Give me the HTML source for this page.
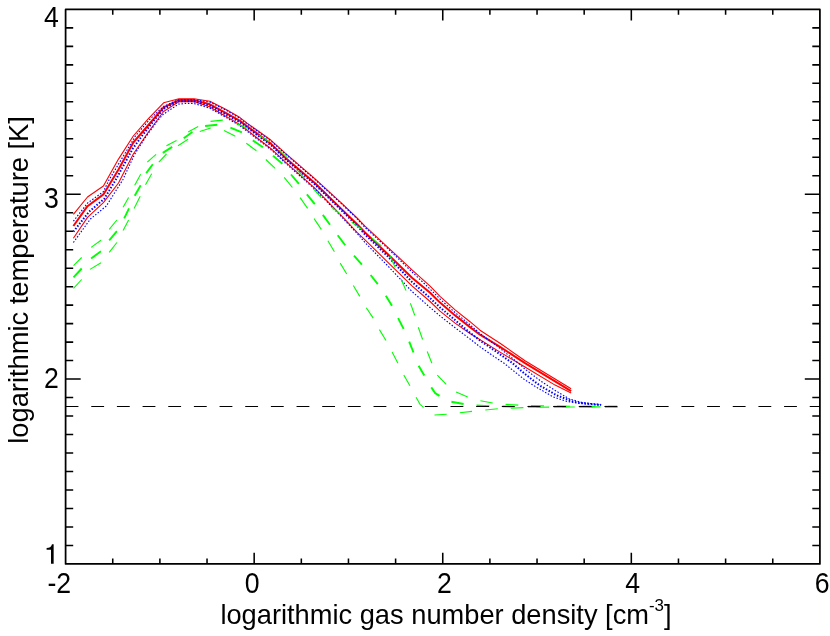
<!DOCTYPE html>
<html><head><meta charset="utf-8"><title>plot</title>
<style>
html,body{margin:0;padding:0;background:#fff;}
svg{display:block;}
text{font-family:"Liberation Sans",sans-serif;font-size:27.2px;fill:#000;}
</style></head><body>
<svg width="830" height="636" viewBox="0 0 830 636">
<rect width="830" height="636" fill="#fff"/>
<g fill="none" stroke-linecap="butt" stroke-linejoin="round">
<path d="M73.4 226.0L87.5 206.2L103.4 194.4L118.5 169.6L133.3 142.5L148.4 125.0L163.6 107.3L179.0 100.1L194.0 100.1L209.9 104.3L226.1 113.1L240.0 120.9L247.1 126.2L271.1 143.9L285.0 157.4L315.1 183.2L342.1 209.6L357.1 224.2L365.0 232.5L387.9 254.3L412.0 277.7L430.1 292.7L440.0 302.6L455.1 315.4L470.0 327.1L480.0 334.7L500.0 346.8L525.0 363.1L555.1 381.4L571.1 391.1" stroke="#f00" stroke-width="2.0"/>
<path d="M73.4 214.3L87.5 197.0L103.4 186.0L118.5 159.1L133.3 136.0L148.4 118.7L163.6 102.8L179.0 98.7L194.0 98.7L209.9 101.3L226.1 109.5L240.0 117.6L247.1 123.1L271.1 140.3L285.0 152.9L315.1 178.9L342.1 203.6L357.1 218.0L365.0 226.2L387.9 247.3L412.0 269.8L430.1 286.1L440.0 296.3L455.1 309.9L470.0 321.7L480.0 330.2L500.0 343.2L525.0 360.7L555.1 379.0L571.1 388.7" stroke="#f00" stroke-width="1.1"/>
<path d="M73.4 238.2L87.5 217.4L103.4 202.6L118.5 183.0L133.3 154.0L148.4 132.0L163.6 111.5L179.0 101.6L194.0 101.6L209.9 107.1L226.1 116.4L240.0 124.8L247.1 130.1L271.1 148.7L285.0 161.6L315.1 188.3L342.1 216.3L357.1 232.3L365.0 239.8L387.9 262.3L412.0 285.8L430.1 301.5L440.0 311.1L455.1 323.1L470.0 333.5L480.0 339.6L500.0 352.1L525.0 367.0L555.1 385.1L571.1 392.9" stroke="#f00" stroke-width="1.1"/>
<path d="M73.4 231.7L89.0 211.8L104.2 198.8L115.6 180.0L132.5 149.0L141.9 136.0L154.0 120.4L161.9 110.7L164.1 108.5L178.6 101.3L194.0 101.3L209.9 105.7L226.1 114.5L240.0 122.3L247.1 127.6L271.1 145.3L285.0 158.8L315.1 184.6L342.1 211.0L357.1 225.6L365.0 234.5L387.9 256.5L412.0 281.9L430.1 298.1L440.0 307.4L455.1 320.1L470.0 332.7L480.0 340.5L495.7 351.3L511.9 362.7L525.0 374.0L539.5 385.3L556.6 395.3L573.7 401.8L586.4 403.6L601.1 404.9" stroke="#00f" stroke-width="2.0" stroke-dasharray="1.5 1.7"/>
<path d="M73.4 221.2L87.5 203.1L103.4 191.6L109.0 180.0L135.4 136.0L150.0 119.1L163.2 106.6L170.3 103.3L178.6 99.7L194.0 99.7L209.9 102.1L226.1 110.3L240.0 118.4L247.1 123.9L271.1 141.1L285.0 153.7L315.1 179.7L342.1 204.4L357.1 218.8L365.0 227.4L387.9 248.6L412.0 271.9L430.1 289.1L440.0 299.0L455.1 312.6L470.0 324.8L480.0 333.5L498.1 346.8L518.6 363.3L525.0 369.1L540.7 381.0L556.0 391.0L569.5 399.0L582.2 402.6L601.1 404.7" stroke="#00f" stroke-width="1.15" stroke-dasharray="1.5 1.7"/>
<path d="M73.4 242.5L90.4 219.0L106.3 206.0L122.7 180.0L134.7 154.1L146.3 136.0L157.9 120.4L162.8 114.7L167.6 111.4L178.6 104.1L185.2 103.5L194.0 103.5L209.9 108.2L226.1 117.5L240.0 125.9L247.1 131.2L271.1 149.8L285.0 162.7L315.1 189.4L342.1 217.4L357.1 233.4L365.0 242.5L387.9 266.0L412.0 291.5L430.1 307.5L440.0 315.9L455.1 327.7L470.0 339.0L480.0 346.8L490.8 354.3L504.1 363.3L525.0 380.0L537.0 387.5L552.7 396.7L565.3 401.0L578.0 403.3L601.1 405.1" stroke="#00f" stroke-width="1.15" stroke-dasharray="1.5 1.7"/>
<path d="M73.5 277.3L81.7 268.5M91.1 258.4L101.0 251.3M109.2 240.3L116.9 231.1M124.2 218.3L129.0 208.4M134.7 195.8L140.7 185.2M146.2 173.1L152.8 164.3M162.8 152.9L172.2 146.9M183.7 138.2L192.4 132.0M205.1 126.0L217.3 124.8M230.4 127.6L241.9 132.4M252.8 140.4L262.9 147.2M273.0 155.8L282.4 163.8M291.0 174.5L298.9 183.9M306.9 194.4L314.8 204.1M322.8 214.9L330.0 224.8M337.7 235.2L345.2 245.3M354.0 255.6L361.9 264.6M370.6 275.0L377.8 284.1M385.8 295.7L392.0 305.8M398.1 318.1L403.6 328.9M409.2 341.6L413.5 352.5M418.6 365.8L424.3 375.6M431.3 387.4L435.2 393.1L439.5 395.9M451.4 401.8L463.6 404.0M476.5 405.5L489.4 406.1M502.4 406.4L514.7 406.6M528.0 406.7L540.8 406.7M553.7 406.7L566.5 406.7M579.3 406.7L592.8 406.7M605.0 406.7L617.5 406.7" stroke="#0f0" stroke-width="1.9"/>
<path d="M73.5 265.6L81.7 257.5M91.1 247.4L101.0 240.3M109.2 229.3L116.9 220.0M123.1 207.3L128.6 197.4M134.7 185.2L140.7 174.2M147.3 162.1L156.1 154.4M166.4 145.7L176.5 140.4M188.1 132.0L198.2 126.6M210.5 121.4L222.8 120.1M236.1 123.5L247.2 128.3M258.7 135.1L269.3 141.8M279.0 150.0L287.7 158.2M296.5 169.3L304.7 178.1M313.4 188.9L321.3 197.6M331.4 207.0L340.1 214.2M351.7 222.2L361.8 229.4M371.9 238.1L381.3 246.0M390.1 255.9L395.2 267.5M401.0 279.0L406.0 290.6M410.4 303.3L414.7 315.2M418.3 327.3L422.6 339.5M427.2 351.5L431.9 363.3M437.3 375.2L446.2 384.3M456.1 391.9L467.7 397.1M480.4 400.8L492.7 403.0M505.6 404.4L518.3 405.1M531.0 405.6L544.0 405.9M557.0 406.1L570.0 406.2M582.5 406.3L595.3 406.4M608.0 406.4L617.0 406.4" stroke="#0f0" stroke-width="1.1"/>
<path d="M73.5 288.3L81.7 279.5M90.0 269.4L101.0 262.8M109.2 252.4L116.9 242.5M123.1 230.4L128.6 220.0M134.1 208.4L140.2 196.3M145.5 184.8L151.7 173.8M158.8 162.2L166.5 154.0M178.0 145.7L188.1 139.2M199.8 131.6L210.7 128.1M224.0 130.5L235.4 136.3M246.3 143.3L256.4 150.8M265.8 159.5L275.2 168.4M284.2 177.3L292.4 187.5M300.1 197.6L307.6 208.4M314.1 218.6L321.3 229.4M327.9 240.7L334.4 251.7M340.2 263.1L346.7 274.0M353.3 285.5L359.8 296.4M366.3 307.7L373.2 318.1M379.4 329.6L386.0 340.5M392.1 352.0L397.9 363.3M403.8 374.9L409.9 385.7M416.1 397.3L420.0 404.3L423.6 407.3M434.5 415.0L446.7 414.2M459.8 412.8L472.0 411.4M485.3 410.0L497.8 408.7M510.8 408.3L523.4 407.6M536.4 407.2L549.0 407.1M562.0 407.0L574.8 407.0M587.7 406.9L600.5 406.9M613.3 406.8L617.5 406.8" stroke="#0f0" stroke-width="1.1"/>
<path d="M65.60 406.5H819.90" stroke="#000" stroke-width="1.1" stroke-dasharray="12.83 12.83"/>
<path d="M112.74 563.90v-5.30M112.74 9.40v5.30M159.89 563.90v-5.30M159.89 9.40v5.30M207.03 563.90v-5.30M207.03 9.40v5.30M254.17 563.90v-11.10M254.17 9.40v11.10M301.32 563.90v-5.30M301.32 9.40v5.30M348.46 563.90v-5.30M348.46 9.40v5.30M395.61 563.90v-5.30M395.61 9.40v5.30M442.75 563.90v-11.10M442.75 9.40v11.10M489.89 563.90v-5.30M489.89 9.40v5.30M537.04 563.90v-5.30M537.04 9.40v5.30M584.18 563.90v-5.30M584.18 9.40v5.30M631.32 563.90v-11.10M631.32 9.40v11.10M678.47 563.90v-5.30M678.47 9.40v5.30M725.61 563.90v-5.30M725.61 9.40v5.30M772.76 563.90v-5.30M772.76 9.40v5.30M65.60 545.42h7.60M819.90 545.42h-7.60M65.60 526.93h7.60M819.90 526.93h-7.60M65.60 508.45h7.60M819.90 508.45h-7.60M65.60 489.97h7.60M819.90 489.97h-7.60M65.60 471.48h7.60M819.90 471.48h-7.60M65.60 453.00h7.60M819.90 453.00h-7.60M65.60 434.52h7.60M819.90 434.52h-7.60M65.60 416.03h7.60M819.90 416.03h-7.60M65.60 397.55h7.60M819.90 397.55h-7.60M65.60 379.07h15.10M819.90 379.07h-15.10M65.60 360.58h7.60M819.90 360.58h-7.60M65.60 342.10h7.60M819.90 342.10h-7.60M65.60 323.62h7.60M819.90 323.62h-7.60M65.60 305.13h7.60M819.90 305.13h-7.60M65.60 286.65h7.60M819.90 286.65h-7.60M65.60 268.17h7.60M819.90 268.17h-7.60M65.60 249.68h7.60M819.90 249.68h-7.60M65.60 231.20h7.60M819.90 231.20h-7.60M65.60 212.72h7.60M819.90 212.72h-7.60M65.60 194.23h15.10M819.90 194.23h-15.10M65.60 175.75h7.60M819.90 175.75h-7.60M65.60 157.27h7.60M819.90 157.27h-7.60M65.60 138.78h7.60M819.90 138.78h-7.60M65.60 120.30h7.60M819.90 120.30h-7.60M65.60 101.82h7.60M819.90 101.82h-7.60M65.60 83.33h7.60M819.90 83.33h-7.60M65.60 64.85h7.60M819.90 64.85h-7.60M65.60 46.37h7.60M819.90 46.37h-7.60M65.60 27.88h7.60M819.90 27.88h-7.60" stroke="#000" stroke-width="1.55"/>
<rect x="65.6" y="9.4" width="754.30" height="554.50" stroke="#000" stroke-width="1.75" stroke-linejoin="round"/>
</g>
<g opacity="0.999">
<g id="xl">
<text transform="translate(47.5 592.8) scale(0.98 1.075)">-2</text>
<text transform="translate(244.75 592.8) scale(0.98 1.075)">0</text>
<text transform="translate(436.95 592.8) scale(0.98 1.075)">2</text>
<text transform="translate(625.35 592.8) scale(0.98 1.075)">4</text>
<text transform="translate(814.65 592.8) scale(0.98 1.075)">6</text>
</g>
<g id="yl">
<text transform="translate(44.0 26.6) scale(0.98 1.075)">4</text>
<text transform="translate(44.0 207.8) scale(0.98 1.075)">3</text>
<text transform="translate(44.0 387.9) scale(0.98 1.075)">2</text>
<path d="M53.65 544.2V563.8H51V549.8H46.6V548C49.4 547.9 51.3 547 52 544.2Z" fill="#000"/>
</g>
<text id="xt" x="220.4" y="624" style="font-size:27.25px">logarithmic gas number density [cm<tspan font-size="16.9" dy="-12.8">-3</tspan><tspan dy="12.8">]</tspan></text>
<text id="yt" style="font-size:27.3px" transform="translate(28.4 443.8) rotate(-90)">logarithmic temperature [K]</text>
</g>
</svg>
</body></html>
